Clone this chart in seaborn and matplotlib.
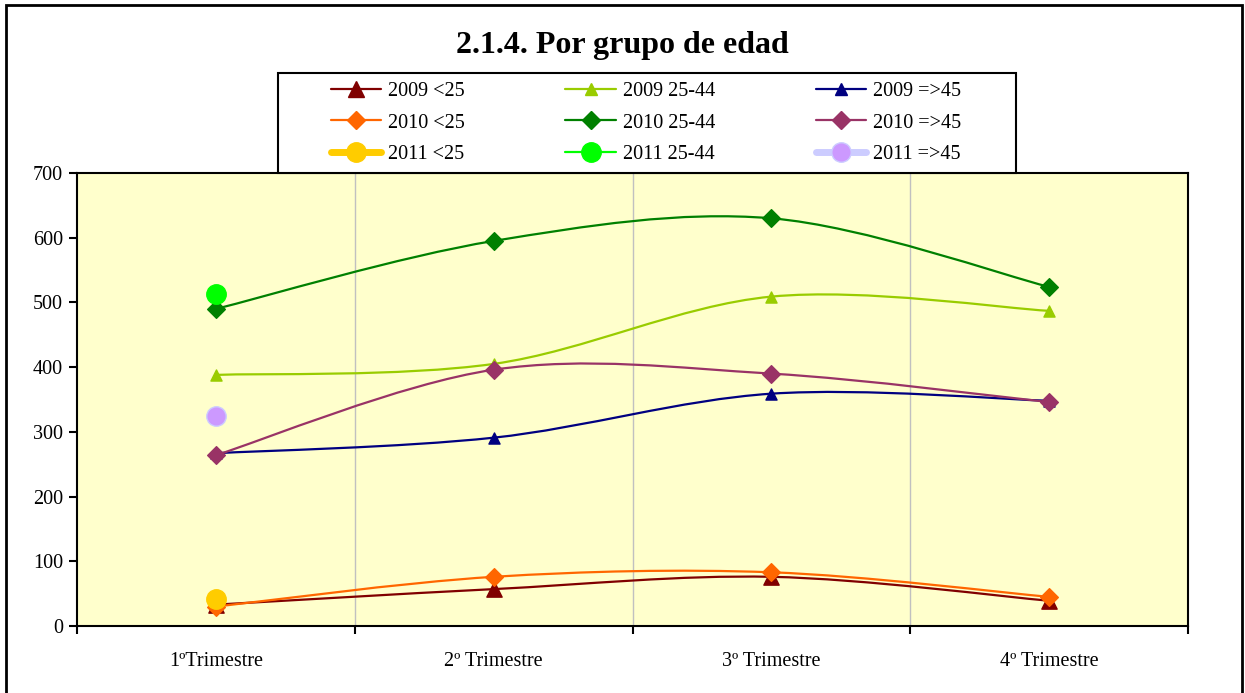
import numpy as np
import pandas as pd
import matplotlib
matplotlib.use('Agg')
import matplotlib.pyplot as plt
from matplotlib.path import Path
from matplotlib.patches import PathPatch, Rectangle
from matplotlib.lines import Line2D
import seaborn as sns

# data
trimestres = ['1ºTrimestre', '2º Trimestre', '3º Trimestre', '4º Trimestre']
v2009_lt25 = [33, 57, 76, 39]
v2009_25_44 = [388, 405, 509, 487]
v2009_ge45 = [267, 291, 359, 348]
v2010_lt25 = [30, 76, 83, 45]
v2010_25_44 = [490, 595, 630, 524]
v2010_ge45 = [264, 396, 390, 346]
v2011_lt25 = [42]
v2011_25_44 = [513]
v2011_ge45 = [325]

series = [
    # label, values, colour, marker, marker size, edge colour
    ('2009 <25', v2009_lt25, '#800000', '^', 11, '#800000'),
    ('2010 <25', v2010_lt25, '#FF6600', 'D', 9, '#FF6600'),
    ('2011 <25', v2011_lt25, '#FFCC00', 'o', 14, '#FFCC00'),
    ('2009 25-44', v2009_25_44, '#99CC00', '^', 8, '#99CC00'),
    ('2010 25-44', v2010_25_44, '#008000', 'D', 9, '#008000'),
    ('2011 25-44', v2011_25_44, '#00FF00', 'o', 14, '#00FF00'),
    ('2009 =>45', v2009_ge45, '#000080', '^', 8, '#000080'),
    ('2010 =>45', v2010_ge45, '#993366', 'D', 9, '#993366'),
    ('2011 =>45', v2011_ge45, '#CC99FF', 'o', 14, '#CCCCFF'),
]

sns.set_style('white')
plt.rcParams['font.family'] = ['Liberation Serif', 'DejaVu Serif']
plt.rcParams['text.color'] = 'black'
plt.rcParams['xtick.color'] = 'black'
plt.rcParams['ytick.color'] = 'black'

fig = plt.figure(figsize=(12.45, 6.93), dpi=100)
ax = fig.add_axes([77 / 1245, 1 - 626 / 693, (1188 - 77) / 1245, (626 - 173) / 693])
ax.set_facecolor('#FFFFCC')


def smooth_path(xs, ys):
    # Excel-style smoothed line: cubic Bezier segments through the points
    pts = np.column_stack([xs, ys]).astype(float)
    n = len(pts)
    verts = [pts[0]]
    codes = [Path.MOVETO]
    for i in range(n - 1):
        p0 = pts[i - 1] if i > 0 else pts[i]
        p1 = pts[i]
        p2 = pts[i + 1]
        p3 = pts[i + 2] if i + 2 < n else pts[i + 1]
        verts += [p1 + (p2 - p0) / 6, p2 - (p3 - p1) / 6, p2]
        codes += [Path.CURVE4] * 3
    return Path(verts, codes)


handles = []
for label, vals, col, mk, ms, ec in series:
    df = pd.DataFrame({'x': np.arange(len(vals)), 'y': vals})
    if len(vals) > 1:
        ax.add_patch(PathPatch(smooth_path(df['x'], df['y']), facecolor='none',
                               edgecolor=col, lw=1.6, zorder=3))
    sns.scatterplot(data=df, x='x', y='y', ax=ax, marker=mk, s=ms ** 2,
                    color=col, edgecolor=ec, linewidth=1, zorder=4, legend=False)
    lw = 5 if label in ('2011 <25', '2011 =>45') else 1.6
    lcol = '#CCCCFF' if label == '2011 =>45' else col
    handles.append(Line2D([], [], color=lcol, lw=lw, marker=mk, markersize=ms,
                          markerfacecolor=col, markeredgecolor=ec))

ax.set_xlim(-0.5, 3.5)
ax.set_ylim(0, 700)
ax.set_yticks(range(0, 701, 100))
ax.set_xticks(range(4))
ax.set_xticklabels(trimestres)
ax.set_xticks(np.arange(-0.5, 3.6, 1), minor=True)
ax.set_xlabel('')
ax.set_ylabel('')
ax.tick_params(axis='x', which='major', bottom=True, length=0, pad=19, labelsize=14.5)
ax.tick_params(axis='x', which='minor', bottom=True, length=6, width=1.5, direction='out')
ax.tick_params(axis='y', left=True, length=6, width=1.5, direction='out', labelsize=14.5, pad=4)
ax.grid(False)
for g in [0.5, 1.5, 2.5]:
    ax.axvline(g, color='#C0C0C0', lw=1, zorder=1)
for sp in ax.spines.values():
    sp.set_visible(True)
    sp.set_color('black')
    sp.set_linewidth(1.5)

fig.text(0.5, 1 - 46 / 693, '2.1.4. Por grupo de edad', ha='center', va='center',
         fontsize=23, fontweight='bold')

# legend box and entries
fig.patches.append(Rectangle((278 / 1245, 1 - 173 / 693), (1016 - 278) / 1245, 100 / 693,
                             transform=fig.transFigure, facecolor='white', edgecolor='black',
                             lw=1.5, zorder=4))
leg = fig.legend(handles, [s[0] for s in series], ncol=3, loc='center',
                 bbox_to_anchor=(646 / 1245, 1 - 123 / 693), fontsize=14.5, frameon=False,
                 handlelength=2.5, handletextpad=0.35, labelspacing=0.6,
                 columnspacing=5.0, borderpad=0)
leg.set_zorder(5)

fig.patches.append(Rectangle((6 / 1245, -0.01), (1242 - 6) / 1245, (693 - 5) / 693 + 0.01,
                             transform=fig.transFigure, fill=False, edgecolor='black', lw=2))

fig.savefig('out.png', dpi=100)
